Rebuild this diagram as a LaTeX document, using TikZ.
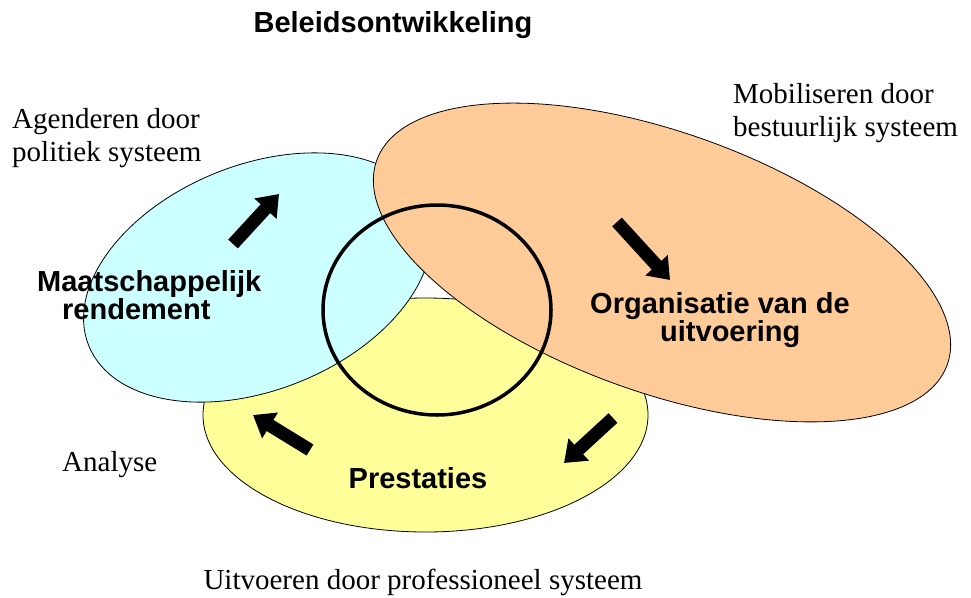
\documentclass[tikz,border=0pt]{standalone}
\usepackage{fontspec}
\setmainfont{Liberation Serif}
\setsansfont{Liberation Sans}
\usetikzlibrary{arrows.meta}

\definecolor{blobcyan}{HTML}{CCFFFF}
\definecolor{bloborange}{HTML}{FFCC99}
\definecolor{blobyellow}{HTML}{FFFF99}

\tikzset{
  blob/.style={draw=black, line width=0.8pt},
  bigarrow/.style={line width=13pt, -{Triangle[length=20pt,width=29pt]}},
  heading/.style={font=\sffamily\bfseries\fontsize{29}{25}\selectfont, align=left, inner sep=0pt},
  remark/.style={font=\fontsize{29}{33}\selectfont, align=left, inner sep=0pt}
}

\begin{document}
\begin{tikzpicture}[x=1pt,y=-1pt]

    \useasboundingbox (0,0) rectangle (971,597);

    %ellipses
    \coordinate (yelc) at (425.5,415);
    \coordinate (cyac) at (257.5,277.5);
    \coordinate (orac) at (662,262.5);
    \coordinate (ringc) at (437,310);

    \draw[blob, fill=blobyellow] (yelc) ellipse [x radius=222.5, y radius=117];
    \draw[blob, fill=blobcyan, rotate around={22:(cyac)}] (cyac) ellipse [x radius=182, y radius=112.5];
    \draw[blob, fill=bloborange, rotate around={-19.7:(orac)}] (orac) ellipse [x radius=303, y radius=130];

    %middle ring
    \draw[line width=3.5pt] (ringc) ellipse [x radius=114, y radius=105];

    %arrows
    \coordinate (upA) at (233,244);
    \coordinate (upB) at (279,194);
    \coordinate (downA) at (617,222);
    \coordinate (downB) at (670,280);
    \coordinate (leftA) at (310,450);
    \coordinate (leftB) at (253,415);
    \coordinate (backA) at (613,418);
    \coordinate (backB) at (564,463);

    \draw[bigarrow] (upA) -- (upB);
    \draw[bigarrow] (downA) -- (downB);
    \draw[bigarrow] (leftA) -- (leftB);
    \draw[bigarrow] (backA) -- (backB);

    %labels
    \node[heading, anchor=center] (title) at (393,25) {Beleidsontwikkeling};
    \node[heading, anchor=west] (rendement) at (37,295) {Maatschappelijk\\\hspace*{25pt}rendement};
    \node[heading, anchor=west] (organisatie) at (590,320) {Organisatie van de\\\hspace*{70pt}uitvoering};
    \node[heading, anchor=center] (prestaties) at (418,478) {Prestaties};

    \node[remark, anchor=west] (agenderen) at (12,138) {Agenderen door\\politiek systeem};
    \node[remark, anchor=west] (mobiliseren) at (733,113) {Mobiliseren door\\bestuurlijk systeem};
    \node[remark, anchor=west] (analyse) at (62,465) {Analyse};
    \node[remark, anchor=center] (uitvoeren) at (423,582) {Uitvoeren door professioneel systeem};

\end{tikzpicture}
\end{document}
